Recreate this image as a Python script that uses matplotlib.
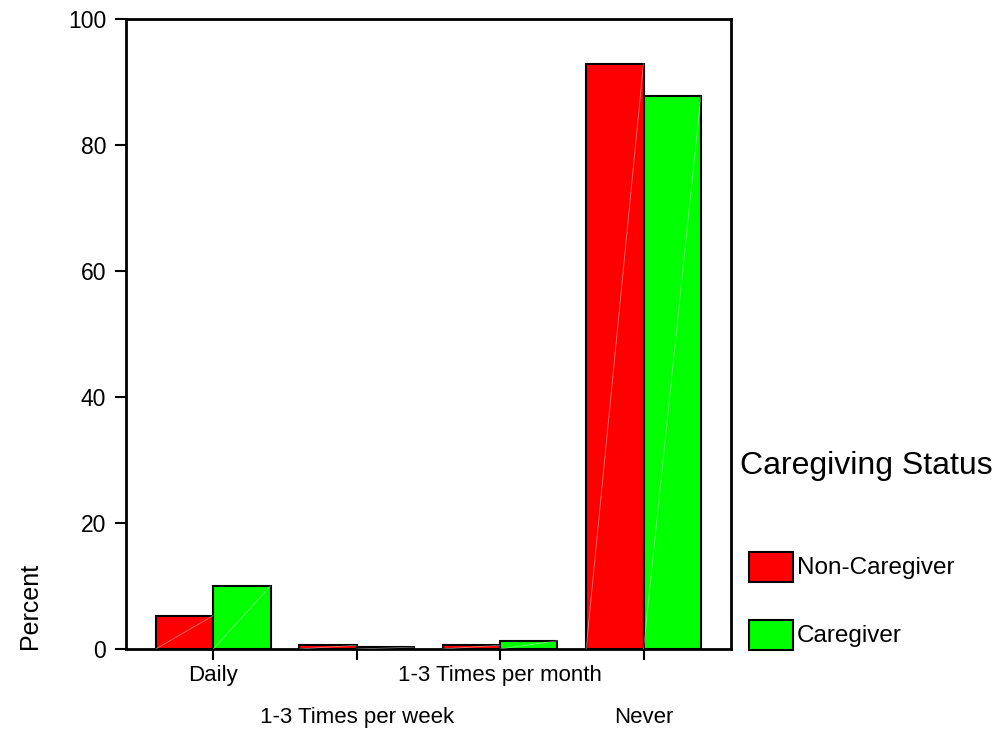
import matplotlib
matplotlib.use("Agg")
import matplotlib.pyplot as plt
from matplotlib.patches import Rectangle
import numpy as np

categories = ["Daily", "1-3 Times per week", "1-3 Times per month", "Never"]
series_names = ["Non-Caregiver", "Caregiver"]
non_caregiver = [5.3, 0.6, 0.6, 92.9]
caregiver = [10.0, 0.3, 1.3, 87.7]
yticks = [0, 20, 40, 60, 80, 100]
colors = ["#ff0000", "#00ff00"]

plt.rcParams["font.family"] = ["Liberation Sans", "DejaVu Sans"]

fig = plt.figure(figsize=(10.01, 7.33), dpi=100)
ax = fig.add_axes([125.7 / 1001, 1 - 649 / 733, (731 - 125.7) / 1001, (649 - 19) / 733])

x = np.arange(len(categories))
w = 0.4
for vals, off, col in [(non_caregiver, -w / 2, colors[0]), (caregiver, w / 2, colors[1])]:
    bars = ax.bar(x + off, vals, width=w, color=col, edgecolor="black", linewidth=1.5, zorder=2)
    for b in bars:
        x0, y0 = b.get_x(), b.get_y()
        ax.plot([x0, x0 + b.get_width()], [y0, y0 + b.get_height()],
                color="white", lw=0.6, alpha=0.45, zorder=3)

ax.set_xlim(-0.61, 3.61)
ax.set_ylim(0, 100)
ax.set_yticks(yticks)
ax.tick_params(axis="y", labelsize=16.5, length=8, width=1.5, direction="out", pad=6)

ax.set_xticks([0, 2])
ax.set_xticklabels([categories[0], categories[2]])
ax.set_xticks([1, 3], minor=True)
ax.set_xticklabels([categories[1], categories[3]], minor=True)
ax.tick_params(axis="x", which="major", labelsize=16, length=8, width=1.5, direction="out", pad=3.5)
ax.tick_params(axis="x", which="minor", labelsize=16, length=8, width=1.5, direction="out", pad=33.5)

for s in ax.spines.values():
    s.set_linewidth(2)

fig.text(30 / 1001, 1 - 649 / 733, "Percent", rotation=90, ha="center", va="bottom", fontsize=18)

# legend
fig.text(740 / 1001, 1 - 466 / 733, "Caregiving Status", ha="left", va="center", fontsize=23)
leg_y = [552, 620]
for name, col, yy in zip(series_names, colors, leg_y):
    fig.add_artist(Rectangle((749 / 1001, 1 - (yy + 30) / 733), 44 / 1001, 30 / 733,
                             transform=fig.transFigure, facecolor=col, edgecolor="black", lw=1.5))
    fig.text(797 / 1001, 1 - (yy + 16) / 733, name, ha="left", va="center", fontsize=17.5)

fig.savefig("out.png", dpi=100)
